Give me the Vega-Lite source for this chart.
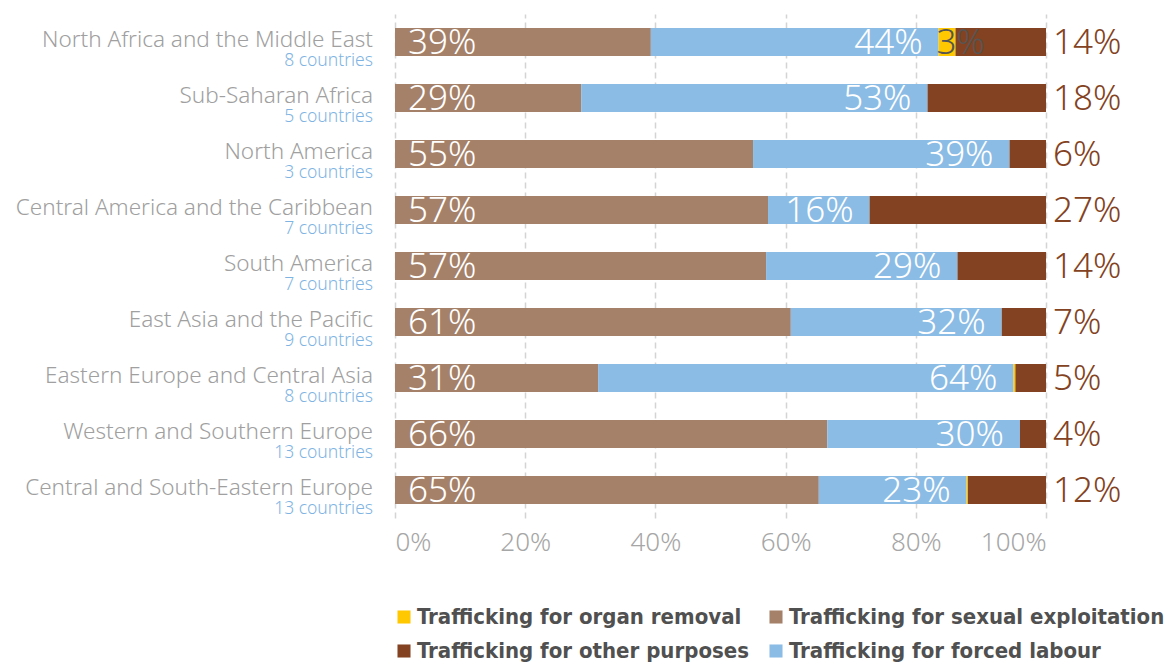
{
  "$schema": "https://vega.github.io/schema/vega-lite/v6.json",
  "width": 651,
  "height": 504,
  "autosize": {"type": "none"},
  "padding": {"left": 395, "top": 14, "right": 128, "bottom": 146},
  "background": "white",
  "config": {
    "font": "Noto Sans",
    "view": {"stroke": null}
  },
  "data": {
    "values": [
      {"region": "North Africa and the Middle East", "n": "8 countries", "cat": "Trafficking for sexual exploitation", "o": 1, "value": 0.393},
      {"region": "North Africa and the Middle East", "n": "8 countries", "cat": "Trafficking for forced labour", "o": 2, "value": 0.442},
      {"region": "North Africa and the Middle East", "n": "8 countries", "cat": "Trafficking for organ removal", "o": 3, "value": 0.026},
      {"region": "North Africa and the Middle East", "n": "8 countries", "cat": "Trafficking for other purposes", "o": 4, "value": 0.139},
      {"region": "Sub-Saharan Africa", "n": "5 countries", "cat": "Trafficking for sexual exploitation", "o": 1, "value": 0.286},
      {"region": "Sub-Saharan Africa", "n": "5 countries", "cat": "Trafficking for forced labour", "o": 2, "value": 0.532},
      {"region": "Sub-Saharan Africa", "n": "5 countries", "cat": "Trafficking for organ removal", "o": 3, "value": 0.0},
      {"region": "Sub-Saharan Africa", "n": "5 countries", "cat": "Trafficking for other purposes", "o": 4, "value": 0.182},
      {"region": "North America", "n": "3 countries", "cat": "Trafficking for sexual exploitation", "o": 1, "value": 0.550},
      {"region": "North America", "n": "3 countries", "cat": "Trafficking for forced labour", "o": 2, "value": 0.394},
      {"region": "North America", "n": "3 countries", "cat": "Trafficking for organ removal", "o": 3, "value": 0.0},
      {"region": "North America", "n": "3 countries", "cat": "Trafficking for other purposes", "o": 4, "value": 0.056},
      {"region": "Central America and the Caribbean", "n": "7 countries", "cat": "Trafficking for sexual exploitation", "o": 1, "value": 0.573},
      {"region": "Central America and the Caribbean", "n": "7 countries", "cat": "Trafficking for forced labour", "o": 2, "value": 0.156},
      {"region": "Central America and the Caribbean", "n": "7 countries", "cat": "Trafficking for organ removal", "o": 3, "value": 0.0},
      {"region": "Central America and the Caribbean", "n": "7 countries", "cat": "Trafficking for other purposes", "o": 4, "value": 0.271},
      {"region": "South America", "n": "7 countries", "cat": "Trafficking for sexual exploitation", "o": 1, "value": 0.570},
      {"region": "South America", "n": "7 countries", "cat": "Trafficking for forced labour", "o": 2, "value": 0.294},
      {"region": "South America", "n": "7 countries", "cat": "Trafficking for organ removal", "o": 3, "value": 0.0},
      {"region": "South America", "n": "7 countries", "cat": "Trafficking for other purposes", "o": 4, "value": 0.136},
      {"region": "East Asia and the Pacific", "n": "9 countries", "cat": "Trafficking for sexual exploitation", "o": 1, "value": 0.608},
      {"region": "East Asia and the Pacific", "n": "9 countries", "cat": "Trafficking for forced labour", "o": 2, "value": 0.324},
      {"region": "East Asia and the Pacific", "n": "9 countries", "cat": "Trafficking for organ removal", "o": 3, "value": 0.0},
      {"region": "East Asia and the Pacific", "n": "9 countries", "cat": "Trafficking for other purposes", "o": 4, "value": 0.068},
      {"region": "Eastern Europe and Central Asia", "n": "8 countries", "cat": "Trafficking for sexual exploitation", "o": 1, "value": 0.312},
      {"region": "Eastern Europe and Central Asia", "n": "8 countries", "cat": "Trafficking for forced labour", "o": 2, "value": 0.638},
      {"region": "Eastern Europe and Central Asia", "n": "8 countries", "cat": "Trafficking for organ removal", "o": 3, "value": 0.003},
      {"region": "Eastern Europe and Central Asia", "n": "8 countries", "cat": "Trafficking for other purposes", "o": 4, "value": 0.047},
      {"region": "Western and Southern Europe", "n": "13 countries", "cat": "Trafficking for sexual exploitation", "o": 1, "value": 0.664},
      {"region": "Western and Southern Europe", "n": "13 countries", "cat": "Trafficking for forced labour", "o": 2, "value": 0.296},
      {"region": "Western and Southern Europe", "n": "13 countries", "cat": "Trafficking for organ removal", "o": 3, "value": 0.0},
      {"region": "Western and Southern Europe", "n": "13 countries", "cat": "Trafficking for other purposes", "o": 4, "value": 0.040},
      {"region": "Central and South-Eastern Europe", "n": "13 countries", "cat": "Trafficking for sexual exploitation", "o": 1, "value": 0.651},
      {"region": "Central and South-Eastern Europe", "n": "13 countries", "cat": "Trafficking for forced labour", "o": 2, "value": 0.227},
      {"region": "Central and South-Eastern Europe", "n": "13 countries", "cat": "Trafficking for organ removal", "o": 3, "value": 0.002},
      {"region": "Central and South-Eastern Europe", "n": "13 countries", "cat": "Trafficking for other purposes", "o": 4, "value": 0.120}
    ]
  },
  "transform": [
    {"stack": "value", "groupby": ["region"], "sort": [{"field": "o", "order": "ascending"}], "as": ["v0", "v1"]}
  ],
  "encoding": {
    "y": {
      "field": "region",
      "type": "nominal",
      "sort": null,
      "scale": {"paddingInner": 0.5, "paddingOuter": 0.25},
      "axis": null
    }
  },
  "layer": [
    {
      "mark": {"type": "bar"},
      "encoding": {
        "x": {
          "field": "v0",
          "type": "quantitative",
          "scale": {"domain": [0, 1], "nice": false},
          "axis": {
            "values": [0, 0.2, 0.4, 0.6, 0.8, 1],
            "format": ".0%",
            "title": null,
            "domain": false,
            "ticks": false,
            "grid": true,
            "gridDash": [6, 4],
            "gridColor": "#d4d4d4",
            "gridWidth": 1.5,
            "labelFont": "Noto Sans",
            "labelFontSize": 26,
            "labelFontWeight": 300,
            "labelColor": "#a6a6a6",
            "labelPadding": 11
          }
        },
        "x2": {"field": "v1"},
        "color": {
          "field": "cat",
          "type": "nominal",
          "scale": {
            "domain": ["Trafficking for organ removal", "Trafficking for other purposes", "Trafficking for sexual exploitation", "Trafficking for forced labour"],
            "range": ["#FFC800", "#834221", "#A5816A", "#8BBCE5"]
          },
          "legend": {
            "title": null,
            "orient": "none",
            "legendX": -2,
            "legendY": 592,
            "columns": 2,
            "symbolType": "square",
            "symbolSize": 170,
            "symbolStrokeWidth": 0,
            "labelFont": "Liberation Sans Narrow, DejaVu Sans Condensed, Roboto",
            "labelFontWeight": "bold",
            "labelFontSize": 22,
            "labelColor": "#505050",
            "labelLimit": 600,
            "labelOffset": 2,
            "columnPadding": 16,
            "rowPadding": 12
          }
        }
      }
    },
    {
      "transform": [{"filter": "datum.o == 1"}],
      "mark": {"type": "text", "align": "left", "baseline": "middle", "dx": 13, "dy": 1, "fontSize": 35, "fontWeight": 300, "color": "white"},
      "encoding": {
        "x": {"field": "v0", "type": "quantitative"},
        "text": {"field": "value", "type": "quantitative", "format": ".0%"}
      }
    },
    {
      "transform": [{"filter": "datum.o == 2"}],
      "mark": {"type": "text", "align": "right", "baseline": "middle", "dx": -16, "dy": 1, "fontSize": 35, "fontWeight": 300, "color": "white"},
      "encoding": {
        "x": {"field": "v1", "type": "quantitative"},
        "text": {"field": "value", "type": "quantitative", "format": ".0%"}
      }
    },
    {
      "transform": [{"filter": "datum.o == 3 && datum.value >= 0.01"}],
      "mark": {"type": "text", "align": "left", "baseline": "middle", "dx": -2, "dy": 1, "fontSize": 35, "fontWeight": 300, "color": "#555555"},
      "encoding": {
        "x": {"field": "v0", "type": "quantitative"},
        "text": {"field": "value", "type": "quantitative", "format": ".0%"}
      }
    },
    {
      "transform": [{"filter": "datum.o == 4"}],
      "mark": {"type": "text", "align": "left", "baseline": "middle", "dx": 7, "dy": 1, "fontSize": 35, "fontWeight": 300, "color": "#834221"},
      "encoding": {
        "x": {"field": "v1", "type": "quantitative"},
        "text": {"field": "value", "type": "quantitative", "format": ".0%"}
      }
    },
    {
      "transform": [{"filter": "datum.o == 1"}],
      "mark": {"type": "text", "align": "right", "baseline": "alphabetic", "dx": -22, "dy": 5, "fontSize": 22.5, "fontWeight": 300, "color": "#a0a0a0"},
      "encoding": {
        "x": {"datum": 0, "type": "quantitative"},
        "text": {"field": "region"}
      }
    },
    {
      "transform": [{"filter": "datum.o == 1"}],
      "mark": {"type": "text", "align": "right", "baseline": "alphabetic", "dx": -22, "dy": 24, "fontSize": 17.5, "fontWeight": 300, "color": "#7fb4e2"},
      "encoding": {
        "x": {"datum": 0, "type": "quantitative"},
        "text": {"field": "n"}
      }
    }
  ]
}
